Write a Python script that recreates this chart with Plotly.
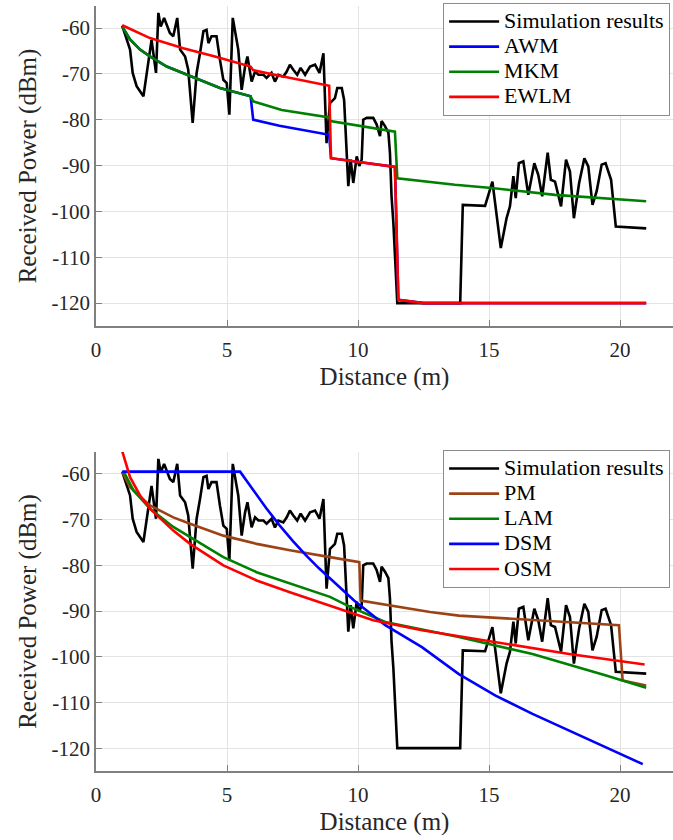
import plotly.graph_objects as go

# ---------------- data ----------------
sim_x = [1.0, 1.3, 1.4, 1.55, 1.81, 1.93, 2.12, 2.29, 2.38, 2.47, 2.6, 2.82, 2.95, 3.1, 3.21, 3.4, 3.52, 3.69,
         3.84, 3.97, 4.1, 4.22, 4.29, 4.41, 4.6, 4.73, 4.86, 4.99, 5.09, 5.22, 5.31, 5.43, 5.56, 5.69, 5.78,
         5.94, 6.07, 6.2, 6.39, 6.51, 6.7, 6.83, 6.96, 7.15, 7.28, 7.4, 7.53, 7.68, 7.81, 7.98, 8.17, 8.36,
         8.53, 8.68, 8.8, 8.93, 9.0, 9.12, 9.21, 9.38, 9.47, 9.57, 9.63, 9.72, 9.82, 9.95, 10.05, 10.14, 10.2,
         10.33, 10.58, 10.71, 10.84, 10.9, 11.03, 11.16, 11.22, 11.28, 11.35, 11.5, 13.9, 14.0, 14.85, 15.13,
         15.29, 15.45, 15.67, 15.8, 15.93, 16.02, 16.14, 16.31, 16.5, 16.73, 16.88, 17.03, 17.24, 17.36, 17.52,
         17.75, 17.94, 18.09, 18.24, 18.44, 18.64, 18.79, 18.95, 19.11, 19.3, 19.45, 19.66, 19.84, 21.0]
sim_y = [-59.5, -64.7, -69.8, -72.7, -74.9, -69.8, -62.6, -69.8, -56.7, -59.7, -57.8, -61.1, -61.8, -57.8, -64.7,
         -66.2, -69.1, -80.7, -69.8, -65.5, -60.7, -60.4, -63.3, -61.8, -61.8, -66.9, -71.3, -72.0, -78.9, -57.8,
         -60.4, -64.7, -73.5, -68.4, -66.2, -71.7, -69.5, -70.2, -70.2, -70.9, -69.8, -71.7, -70.2, -70.6, -69.5,
         -68.0, -69.1, -70.2, -68.7, -70.2, -68.4, -68.0, -69.8, -65.5, -85.1, -76.4, -76.0, -75.3, -73.1, -73.1,
         -75.7, -87.3, -94.5, -88.7, -93.8, -88.0, -90.1, -88.7, -80.0, -79.6, -79.6, -81.0, -83.6, -80.3, -81.4,
         -82.8, -87.3, -96.7, -102.5, -120.0, -120.0, -98.6, -98.8, -93.5, -100.4, -108.0, -101.5, -98.9, -92.3,
         -97.1, -89.5, -89.1, -96.4, -89.5, -92.0, -96.7, -87.2, -93.1, -93.5, -98.9, -88.7, -91.3, -101.5, -93.8,
         -88.4, -90.2, -98.6, -95.6, -89.8, -89.5, -93.1, -103.3, -103.7]

# top panel models
awm_x = [1.0, 1.3, 1.68, 2.06, 2.7, 3.33, 3.97, 4.73, 5.9, 6.0, 7.0, 8.0, 8.9, 8.97, 10.0, 11.41, 11.54, 12.5, 21.0]
awm_y = [-59.7, -62.5, -64.7, -66.2, -68.4, -69.9, -71.3, -73.1, -74.9, -80.0, -81.3, -82.4, -83.3, -88.4, -89.2,
         -90.3, -119.3, -120.0, -120.0]
mkm_x = [1.0, 1.3, 1.68, 2.06, 2.7, 3.33, 3.97, 4.73, 5.9, 6.0, 7.09, 8.36, 8.9, 8.95, 10.0, 11.41, 11.5, 13.7,
         15.1, 17.52, 21.0]
mkm_y = [-59.7, -62.5, -64.7, -66.2, -68.4, -69.9, -71.3, -73.1, -74.9, -76.0, -77.9, -79.0, -79.5, -80.3, -81.3,
         -82.6, -92.8, -94.2, -94.9, -96.4, -97.8]
ewlm_x = [1.0, 2.06, 3.33, 4.54, 5.9, 6.0, 7.0, 8.0, 8.9, 8.97, 10.0, 11.41, 11.54, 12.5, 21.0]
ewlm_y = [-59.4, -62.2, -64.4, -66.2, -68.4, -69.2, -70.4, -71.5, -72.6, -88.4, -89.2, -90.3, -119.3, -120.0, -120.0]

# bottom panel models
pm_x = [1.0, 1.3, 2.06, 2.95, 3.59, 4.86, 6.13, 7.4, 8.93, 10.05, 10.1, 12.75, 13.85, 18.06, 19.96, 20.1, 21.0]
pm_y = [-59.5, -62.9, -66.9, -69.5, -70.9, -73.5, -75.3, -76.7, -78.2, -79.3, -87.7, -90.2, -91.0, -92.4, -93.1,
        -105.2, -106.3]
lam_x = [1.0, 1.1, 1.43, 2.06, 2.95, 3.59, 4.86, 6.13, 7.4, 8.93, 9.7, 11.04, 13.85, 16.66, 19.47, 21.0]
lam_y = [-59.5, -60.0, -63.6, -67.6, -71.6, -73.8, -78.2, -81.5, -84.0, -86.9, -89.1, -92.4, -95.7, -99.4, -104.1,
         -106.8]
dsm_x = [1.0, 5.5, 6.0, 6.5, 7.0, 7.5, 8.0, 8.5, 9.0, 9.85, 11.04, 12.44, 13.85, 15.25, 16.66, 18.06, 19.47, 20.87]
dsm_y = [-59.5, -59.5, -63.5, -67.5, -71.2, -74.6, -77.7, -80.6, -83.2, -87.7, -93.1, -97.9, -103.8, -108.5,
         -112.5, -116.2, -119.8, -123.5]
osm_x = [1.0, 1.3, 1.68, 2.06, 2.95, 3.59, 4.86, 6.13, 7.4, 8.93, 10.58, 12.44, 15.25, 18.06, 20.94]
osm_y = [-55.0, -60.7, -64.7, -67.6, -72.4, -75.3, -80.0, -83.3, -85.9, -88.8, -92.0, -94.2, -96.8, -99.4, -101.7]

x_ticks = [0, 5, 10, 15, 20]
x_ticklabels = ["0", "5", "10", "15", "20"]
y_ticks = [-60, -70, -80, -90, -100, -110, -120]
y_ticklabels = ["-60", "-70", "-80", "-90", "-100", "-110", "-120"]

# ---------------- styling ----------------
FONT = "Liberation Serif"
LW = 2.6
C_BLACK, C_BLUE, C_GREEN, C_RED, C_BROWN = "#000000", "#0000ff", "#008000", "#ff0000", "#9c4316"
LEG_TXT = 22

fig = go.Figure()

def add(x, y, name, color, xa, ya, legend):
    fig.add_trace(go.Scatter(x=x, y=y, mode="lines",
                             name='<span style="font-size:%dpx">%s</span>' % (LEG_TXT, name),
                             line=dict(color=color, width=LW),
                             xaxis=xa, yaxis=ya, legend=legend))

# top
add(sim_x, sim_y, "Simulation results", C_BLACK, "x", "y", "legend")
add(awm_x, awm_y, "AWM", C_BLUE, "x", "y", "legend")
add(mkm_x, mkm_y, "MKM", C_GREEN, "x", "y", "legend")
add(ewlm_x, ewlm_y, "EWLM", C_RED, "x", "y", "legend")
# bottom
add(sim_x, sim_y, "Simulation results", C_BLACK, "x2", "y2", "legend2")
add(pm_x, pm_y, "PM", C_BROWN, "x2", "y2", "legend2")
add(lam_x, lam_y, "LAM", C_GREEN, "x2", "y2", "legend2")
add(dsm_x, dsm_y, "DSM", C_BLUE, "x2", "y2", "legend2")
add(osm_x, osm_y, "OSM", C_RED, "x2", "y2", "legend2")

W, H = 673, 840
ML, MR, MT, MB = 96, 0, 6, 69
ph = H - MT - MB

def fy(px):
    return (H - MB - px) / ph

axis_common = dict(
    showline=True, linecolor="#808080", linewidth=1.5,
    ticks="inside", ticklen=6, tickcolor="#808080", tickwidth=1,
    showgrid=True, gridcolor="#e3e3e3", gridwidth=1,
    zeroline=False, tickfont=dict(family=FONT, size=21, color="#262626"),
    automargin=False,
)
title_font = dict(family=FONT, size=25, color="#262626")
xr = [0, (W - ML) / 26.2]
yr = [-125, -55.2]

legend_common = dict(
    font=dict(family=FONT, size=17, color="#000000"),
    bgcolor="#ffffff", bordercolor="#8c8c8c", borderwidth=1,
    xanchor="right", yanchor="top", x=0.995, itemwidth=50,
    tracegroupgap=0, traceorder="normal",
)

xaxis_common = dict(domain=[0, 1], range=xr, tickvals=x_ticks, ticktext=x_ticklabels,
                    ticklabelstandoff=4,
                    title=dict(text="Distance (m)", font=title_font, standoff=7), **axis_common)
yaxis_common = dict(range=yr, tickvals=y_ticks, ticktext=y_ticklabels,
                    title=dict(text="Received Power (dBm)", font=title_font, standoff=8), **axis_common)

fig.update_layout(
    width=W, height=H,
    margin=dict(l=ML, r=MR, t=MT, b=MB),
    plot_bgcolor="#ffffff", paper_bgcolor="#ffffff",
    font=dict(family=FONT, color="#262626"),
    xaxis=dict(anchor="y", **xaxis_common),
    yaxis=dict(domain=[fy(326), 1.0], anchor="x", **yaxis_common),
    xaxis2=dict(anchor="y2", **xaxis_common),
    yaxis2=dict(domain=[0, fy(452)], anchor="x2", **yaxis_common),
    legend=dict(y=fy(3), **legend_common),
    legend2=dict(y=fy(450), **legend_common),
    showlegend=True,
)

fig.write_html("out.html")
